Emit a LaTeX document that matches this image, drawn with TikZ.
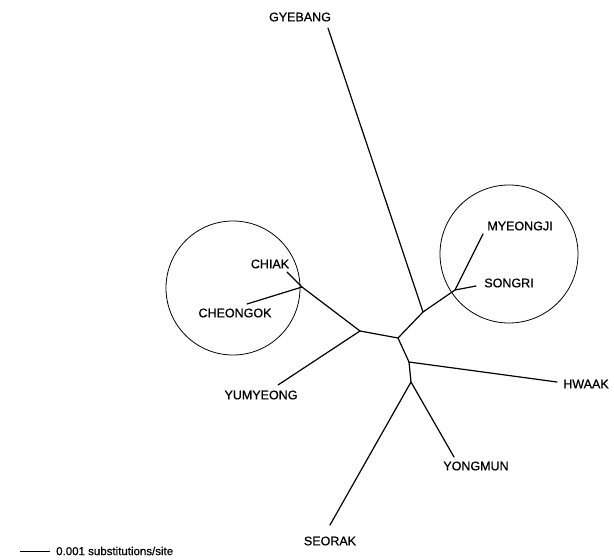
\documentclass[tikz,border=0pt]{standalone}
\usepackage{fontspec}
\setmainfont{Liberation Sans}
\newfontfamily\labfont[FakeBold=0.7]{Liberation Sans}
\begin{document}
\begin{tikzpicture}[x=1pt,y=-1pt,
  branch/.style={line width=1.2pt, line cap=round},
  ring/.style={line width=0.8pt},
  taxon/.style={font=\labfont\fontsize{12.5}{14}\selectfont, inner sep=0pt},
  scaletext/.style={font=\labfont\fontsize{11.5}{13}\selectfont, inner sep=0pt, anchor=west}]
\useasboundingbox (0,0) rectangle (614,560);
% internal junctions
\coordinate (j1) at (302,287);
\coordinate (j2) at (360,331);
\coordinate (j3) at (398,338);
\coordinate (j4) at (423,312);
\coordinate (j5) at (455,290);
\coordinate (j6) at (409,362);
\coordinate (j7) at (411,382);
% leaf ends
\coordinate (lgy) at (328,28);
\coordinate (lmy) at (483,234);
\coordinate (lso) at (476,286);
\coordinate (lch) at (287,272);
\coordinate (lce) at (247,304);
\coordinate (lyu) at (278,385);
\coordinate (lhw) at (557,382);
\coordinate (lyo) at (454,457);
\coordinate (lse) at (330,525);
% labels
\node[taxon] (gy) at (300,17) {GYEBANG};
\node[taxon] (my) at (520,226) {MYEONGJI};
\node[taxon] (so) at (509,283) {SONGRI};
\node[taxon] (ch) at (270,264) {CHIAK};
\node[taxon] (ce) at (235,313) {CHEONGOK};
\node[taxon] (yu) at (261,395) {YUMYEONG};
\node[taxon] (hw) at (586,384) {HWAAK};
\node[taxon] (yo) at (476,466) {YONGMUN};
\node[taxon] (se) at (330,541) {SEORAK};
% branches
\draw[branch] (lch) -- (j1) -- (j2) -- (j3) -- (j6) -- (j7) -- (lse);
\draw[branch] (lce) -- (j1);
\draw[branch] (j2) -- (lyu);
\draw[branch] (j3) -- (j4) -- (j5) -- (lmy);
\draw[branch] (j4) -- (lgy);
\draw[branch] (j5) -- (lso);
\draw[branch] (j6) -- (lhw);
\draw[branch] (j7) -- (lyo);
% circles
\draw[ring] (233,288) circle[radius=67];
\draw[ring] (509,254) circle[radius=69];
% scale bar
\coordinate (sb1) at (20,551);
\coordinate (sb2) at (50,551);
\draw[line width=0.8pt] (sb1) -- (sb2);
\node[scaletext] (sc) at (56,551) {0.001 substitutions/site};
\end{tikzpicture}
\end{document}
